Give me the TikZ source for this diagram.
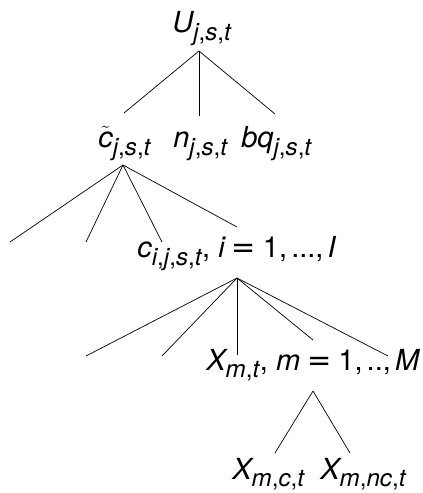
\documentclass[tikz,border=0pt]{standalone}
\usepackage{fontspec}
\setmainfont{TeX Gyre Heros}
\newfontfamily\eqfont{DejaVu Sans}
\usepackage[italic]{mathastext}
\newcommand{\eqsign}{\mathrel{\hbox{\eqfont =}}}
\begin{document}
\begin{tikzpicture}[x=1pt,y=-1pt,line width=.7pt,font=\fontsize{29}{33}\selectfont,lbl/.style={anchor=base west,inner sep=0pt}]
\useasboundingbox (0,0) rectangle (423,493);
% labels
\node[lbl] (U) at (172,32) {$U_{j,s,t}$};
\node[lbl] (ct) at (98,147) {$\tilde{c}_{j,s,t}$};\node[lbl] (n) at (173,147) {$n_{j,s,t}$};\node[lbl] (bq) at (241,147) {$bq_{j,s,t}$};
\node[lbl] (c) at (137,257) {$c_{i,j,s,t},\, i\eqsign\mathrm{1},...,I$};
\node[lbl] (X) at (206,370) {$X_{m,t},\, m\eqsign\mathrm{1},..,M$};
\node[lbl] (Xc) at (232,479) {$X_{m,c,t}$};\node[lbl] (Xnc) at (320,479) {$X_{m,nc,t}$};
% branch points
\coordinate (U-a) at (199,51);\coordinate (ct-a) at (123,165);\coordinate (c-a) at (237,278);\coordinate (X-a) at (313,391);
\coordinate (ct-t) at (124,113);\coordinate (n-t) at (199,116);\coordinate (bq-t) at (275,114);
\coordinate (c-t) at (162,242);\coordinate (X-t) at (237,355);\coordinate (Xc-t) at (275,453);\coordinate (Xnc-t) at (350,453);
% level 1
\draw (U-a)--(ct-t);\draw (U-a)--(n-t);\draw (U-a)--(bq-t);
% level 2
\draw (ct-a)--(10,242);\draw (ct-a)--(86,242);\draw (ct-a)--(c-t);\draw (ct-a)--(237,227);
% level 3
\draw (c-a)--(86,356);\draw (c-a)--(162,356);\draw (c-a)--(X-t);\draw (c-a)--(313,340);\draw (c-a)--(388,356);
% level 4
\draw (X-a)--(Xc-t);\draw (X-a)--(Xnc-t);
\end{tikzpicture}
\end{document}
